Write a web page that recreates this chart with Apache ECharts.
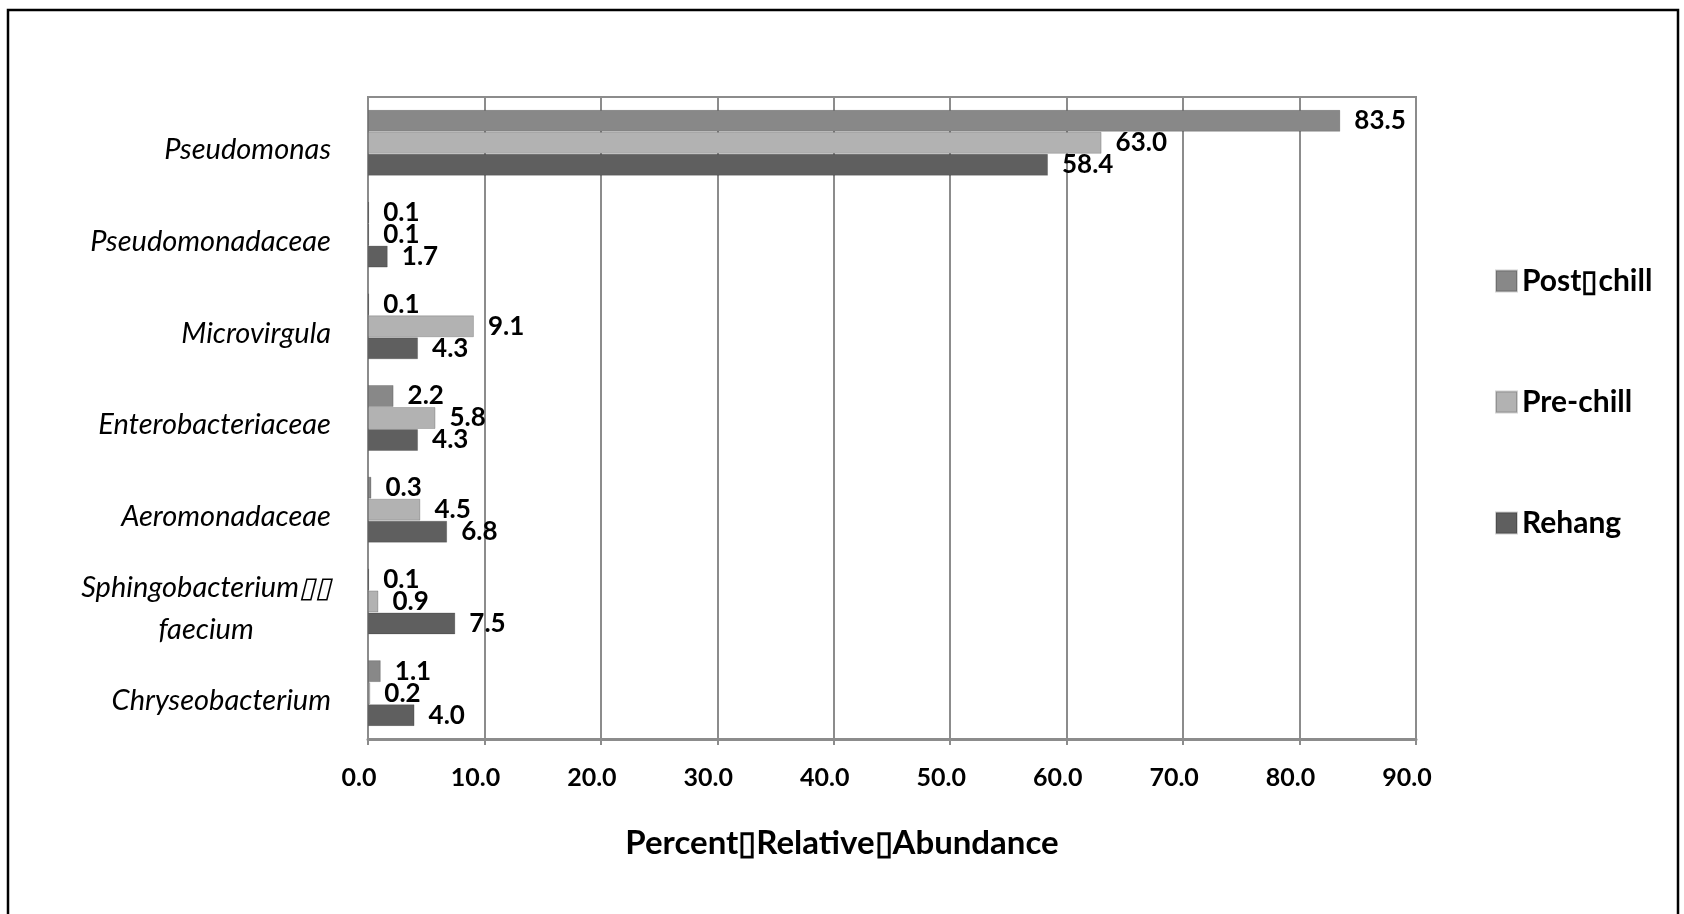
<!DOCTYPE html>
<html>
<head>
<meta charset="utf-8">
<script src="https://cdn.jsdelivr.net/npm/echarts@6/dist/echarts.min.js"></script>
<style>
html,body{margin:0;padding:0;background:#fff;}
#chart{width:1684px;height:914px;}
</style>
</head>
<body>
<div id="chart"></div>
<script>
var categories = ['Pseudomonas', 'Pseudomonadaceae', 'Microvirgula', 'Enterobacteriaceae', 'Aeromonadaceae', 'Sphingobacterium\u25AF\u25AF\nfaecium', 'Chryseobacterium'];
var seriesNames = ['Post\u25AFchill', 'Pre-chill', 'Rehang'];
var postChill = [83.5, 0.1, 0.1, 2.2, 0.3, 0.1, 1.1];
var preChill  = [63.0, 0.1, 9.1, 5.8, 4.5, 0.9, 0.2];
var rehang    = [58.4, 1.7, 4.3, 4.3, 6.8, 7.5, 4.0];
var xTicks = [0, 10, 20, 30, 40, 50, 60, 70, 80, 90];
var axisTitle = 'Percent\u25AFRelative\u25AFAbundance';

var colors = ['#888888', '#b2b2b2', '#5f5f5f'];
var chart = echarts.init(document.getElementById('chart'));

function mkSeries(name, data, color) {
  return {
    name: name,
    type: 'bar',
    data: data,
    barWidth: 22,
    barGap: '0%',
    itemStyle: { color: color, borderColor: 'rgba(0,0,0,0.18)', borderWidth: 1 },
    label: {
      show: true,
      position: 'right',
      distance: 14,
      color: '#000',
      fontFamily: 'Lato',
      fontWeight: 'bold',
      fontSize: 26,
      formatter: function (p) { return p.value.toFixed(1); }
    }
  };
}

chart.setOption({
  animation: false,
  backgroundColor: '#fff',
  color: colors,
  graphic: [{
    type: 'rect',
    shape: { x: 8, y: 10, width: 1670, height: 1000 },
    style: { fill: 'none', stroke: '#000', lineWidth: 2.5 },
    silent: true
  }],
  legend: {
    orient: 'vertical',
    left: 1490,
    top: 261,
    itemWidth: 21,
    itemHeight: 21,
    itemGap: 91,
    icon: 'rect',
    textStyle: { fontFamily: 'Lato', fontWeight: 'bold', fontSize: 30, color: '#000' },
    data: seriesNames
  },
  grid: {
    left: 368,
    right: 268,
    top: 97,
    bottom: 175,
    show: true,
    borderColor: '#8c8c8c',
    borderWidth: 2
  },
  xAxis: {
    type: 'value',
    min: 0,
    max: 90,
    interval: 10,
    name: axisTitle,
    nameLocation: 'middle',
    nameGap: 88,
    nameTextStyle: { fontFamily: 'Lato', fontWeight: 'bold', fontSize: 33, color: '#000', padding: [0, 100, 0, 0] },
    axisLine: { show: true, lineStyle: { color: '#8c8c8c', width: 3 } },
    axisTick: { show: true, length: 6, lineStyle: { color: '#8c8c8c', width: 2 } },
    splitLine: { show: true, lineStyle: { color: '#8c8c8c', width: 2 } },
    axisLabel: {
      margin: 26,
      fontFamily: 'Lato',
      fontWeight: 'bold',
      fontSize: 25,
      color: '#000',
      padding: [0, 18, 0, 0],
      formatter: function (v) { return xTicks.indexOf(v) >= 0 ? v.toFixed(1) : ''; }
    }
  },
  yAxis: {
    type: 'category',
    inverse: true,
    data: categories,
    axisLine: { show: true, lineStyle: { color: '#8c8c8c', width: 2 } },
    axisTick: { show: false },
    axisLabel: {
      margin: 37,
      fontFamily: 'Lato',
      fontStyle: 'italic',
      fontSize: 29,
      color: '#000',
      lineHeight: 42,
      padding: [14, 0, 0, 0],
      formatter: function (v) {
        var parts = v.split('\n');
        if (parts.length > 1) {
          return '{a|' + parts[0] + '}\n{b|' + parts[1] + '}';
        }
        return v;
      },
      rich: {
        a: { fontFamily: 'Lato', fontStyle: 'italic', fontSize: 29, color: '#000', lineHeight: 42 },
        b: { fontFamily: 'Lato', fontStyle: 'italic', fontSize: 29, color: '#000', lineHeight: 42, width: 228, align: 'center' }
      }
    }
  },
  series: [
    mkSeries(seriesNames[0], postChill, colors[0]),
    mkSeries(seriesNames[1], preChill, colors[1]),
    mkSeries(seriesNames[2], rehang, colors[2])
  ]
});
</script>
</body>
</html>
